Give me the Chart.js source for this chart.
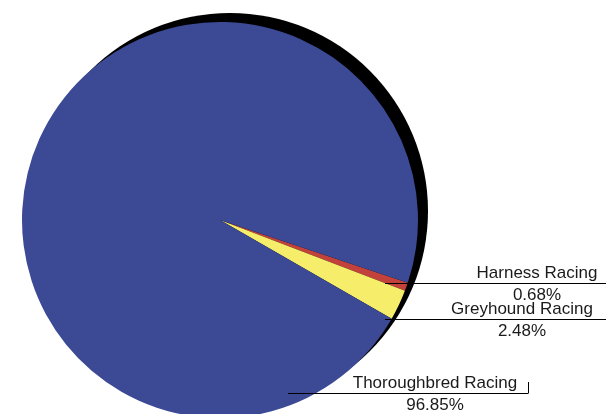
<!DOCTYPE html>
<html>
<head>
<meta charset="utf-8">
<script src="https://cdn.jsdelivr.net/npm/chart.js@4"></script>
<style>
  html, body { margin: 0; padding: 0; background: #fff; overflow: hidden; }
  .wrap { position: relative; width: 606px; height: 440px; }
</style>
</head>
<body>
<div class="wrap"><canvas id="myChart"></canvas></div>
<script>
const categories = ['Harness Racing', 'Greyhound Racing', 'Thoroughbred Racing'];
const shares = [0.68, 2.48, 96.85];
const shareLabels = ['0.68%', '2.48%', '96.85%'];
const colors = ['#c2413b', '#f6ee6a', '#3c4995'];

// where each callout sits (label layout only)
const callouts = [
  { lineY: 283, x0: 385, x1: 606, textX: 537, tick: false },
  { lineY: 319, x0: 385, x1: 606, textX: 522, tick: false },
  { lineY: 393, x0: 288, x1: 528, textX: 435, tick: true }
];

const shadowPlugin = {
  id: 'shadow',
  beforeDatasetsDraw(chart) {
    const arc = chart.getDatasetMeta(0).data[0];
    if (!arc) return;
    const c = chart.ctx;
    c.save();
    c.fillStyle = '#000';
    c.beginPath();
    c.arc(arc.x + 10, arc.y - 9, arc.outerRadius, 0, Math.PI * 2);
    c.fill();
    c.restore();
  }
};

const calloutPlugin = {
  id: 'callouts',
  afterDatasetsDraw(chart) {
    const c = chart.ctx;
    c.save();
    c.font = '17px "Liberation Sans", Arial, sans-serif';
    c.fillStyle = '#1a1a1a';
    c.strokeStyle = '#000';
    c.lineWidth = 1;
    c.textAlign = 'center';
    c.textBaseline = 'alphabetic';
    categories.forEach((name, i) => {
      const p = callouts[i];
      c.beginPath();
      c.moveTo(p.x0, p.lineY + 0.5);
      c.lineTo(p.x1, p.lineY + 0.5);
      if (p.tick) {
        c.moveTo(p.x1 + 0.5, p.lineY + 0.5);
        c.lineTo(p.x1 + 0.5, p.lineY - 11);
      }
      c.stroke();
      c.fillText(name, p.textX, p.lineY - 5);
      c.fillText(shareLabels[i], p.textX, p.lineY + 17);
    });
    c.restore();
  }
};

const ctx = document.getElementById('myChart');

new Chart(ctx, {
  type: 'pie',
  data: {
    labels: categories,
    datasets: [{
      data: shares,
      backgroundColor: colors,
      borderWidth: 0,
      hoverOffset: 0
    }]
  },
  options: {
    responsive: true,
    maintainAspectRatio: false,
    animation: false,
    rotation: 108.5,
    layout: {
      padding: { left: 22, top: 22, right: 188, bottom: 22 }
    },
    plugins: {
      legend: { display: false },
      tooltip: { enabled: false }
    }
  },
  plugins: [shadowPlugin, calloutPlugin]
});
</script>
</body>
</html>
